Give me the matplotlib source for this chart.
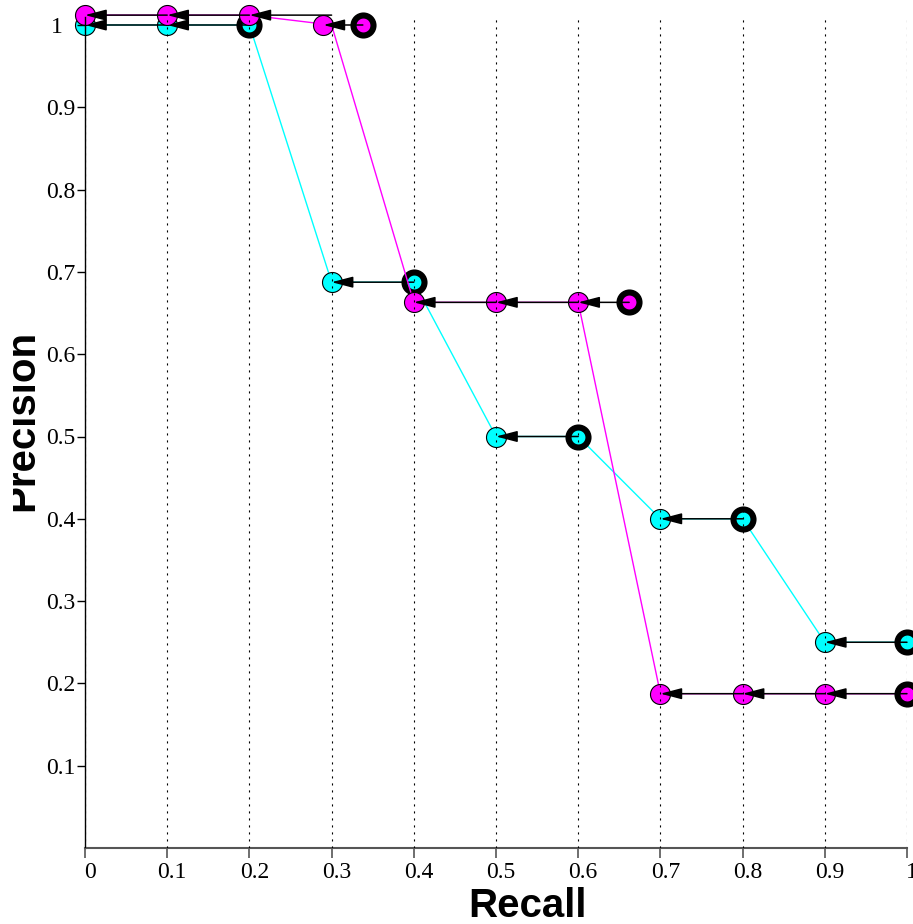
import matplotlib
matplotlib.use("Agg")
import matplotlib.pyplot as plt
from matplotlib.patches import FancyArrowPatch
from matplotlib.transforms import Bbox, ScaledTranslation

# standard recall levels and interpolated precision for two runs
recall_levels = [0.0, 0.1, 0.2, 0.3, 0.4, 0.5, 0.6, 0.7, 0.8, 0.9, 1.0]
cyan_prec = [1.0, 1.0, 1.0, 0.6875, 0.6875, 0.5, 0.5, 0.4, 0.4, 0.25, 0.25]
magenta_prec = [1.0, 1.0, 1.0, 1.0, 0.663, 0.663, 0.663, 0.1875, 0.1875, 0.1875, 0.1875]

# actual (recall, precision) points of each run
cyan_actual_recall = [0.2, 0.4, 0.6, 0.8, 1.0]
cyan_actual_prec = [1.0, 0.6875, 0.5, 0.4, 0.25]
magenta_actual_recall = [0.338, 0.662, 1.0]
magenta_actual_prec = [1.0, 0.663, 0.1875]

tick_values = [0.1 * i for i in range(11)]
x_tick_labels = ["0", "0.1", "0.2", "0.3", "0.4", "0.5", "0.6", "0.7", "0.8", "0.9", "1"]
y_tick_labels = ["0.1", "0.2", "0.3", "0.4", "0.5", "0.6", "0.7", "0.8", "0.9", "1"]

# small display nudges so overlapping magenta markers stay visible
magenta_dx = [0, 0, 0, -0.01, 0, 0, 0, 0, 0, 0, 0]
magenta_dy = [0.012, 0.012, 0.012, 0, 0, 0, 0, 0, 0, 0, 0]

W, H = 913, 924
fig = plt.figure(figsize=(W / 100, H / 100), dpi=100)
ax = fig.add_axes([85 / W, 76 / H, 822 / W, 1.01 * 823 / H])
ax.set_xlim(0, 1)
ax.set_ylim(0, 1.01)


def draw_run(prec, act_r, act_p, color, dx, dy, z):
    mx = [r + d for r, d in zip(recall_levels, dx)]
    my = [p + d for p, d in zip(prec, dy)]
    ax.plot(recall_levels, my, color=color, lw=1, zorder=z, clip_on=False)
    ax.plot(mx, my, 'o', ms=14.4, mfc=color, mec='k', mew=0.8,
            zorder=z + 0.1, clip_on=False)
    # actual points: thick black rings
    ax.plot(act_r, act_p, 'o', ms=14.4, mfc=color, mec='k', mew=4.4,
            zorder=z + 0.2, clip_on=False)
    # arrows from each actual point back through the interpolated levels
    for r, p in zip(act_r, act_p):
        start = r
        for i in range(len(recall_levels) - 1, -1, -1):
            lvl = recall_levels[i]
            if prec[i] != p or lvl >= start - 1e-9:
                continue
            y = p + dy[i]
            arr = FancyArrowPatch((start, y), (lvl + dx[i], y),
                                  arrowstyle='-|>,head_length=13,head_width=3.4',
                                  mutation_scale=1, shrinkA=0, shrinkB=0,
                                  color='k', lw=1.1, zorder=z + 0.3, clip_on=False)
            ax.add_patch(arr)
            start = lvl


zeros = [0] * len(recall_levels)
draw_run(cyan_prec, cyan_actual_recall, cyan_actual_prec, '#00ffff',
         zeros, zeros, 1.0)
draw_run(magenta_prec, magenta_actual_recall, magenta_actual_prec, '#ff00ff',
         magenta_dx, magenta_dy, 1.5)

ax.set_xticks(tick_values)
ax.set_xticklabels(x_tick_labels)
ax.set_yticks(tick_values[1:])
ax.set_yticklabels(y_tick_labels)
ax.grid(axis='x', color='k', lw=0.8, linestyle=(0, (1.9, 4.4)))
ax.set_axisbelow(False)

for s in ['top', 'right']:
    ax.spines[s].set_visible(False)
ax.spines['left'].set_color('k')
ax.spines['left'].set_linewidth(1)
ax.spines['bottom'].set_color('#555555')
ax.spines['bottom'].set_linewidth(1.5)
ax.tick_params(axis='y', direction='out', length=6, width=1, color='k', pad=1,
               labelsize=17)
ax.tick_params(axis='x', direction='out', length=7, width=1.2, color='#555555',
               pad=3, labelsize=17)
for lab in ax.get_xticklabels() + ax.get_yticklabels():
    lab.set_fontfamily('Liberation Serif')
offset = ScaledTranslation(5 / 100, 0, fig.dpi_scale_trans)
for lab in ax.get_xticklabels():
    lab.set_transform(lab.get_transform() + offset)
top_lab = ax.get_yticklabels()[-1]
top_lab.set_transform(top_lab.get_transform()
                      + ScaledTranslation(-12 / 100, 0, fig.dpi_scale_trans))

fig.text(527 / W, (H - 917) / H, "Recall", fontsize=29, fontweight='bold',
         family='Liberation Sans', ha='center', va='baseline')
t = fig.text(33 / W, (H - 420) / H, "Precision", fontsize=29, fontweight='bold',
             family='Liberation Sans', rotation=90, rotation_mode='anchor',
             ha='center', va='baseline')
t.set_clip_box(Bbox([[13, 0], [W, H]]))
t.set_clip_on(True)

fig.savefig("out.png", dpi=100)
